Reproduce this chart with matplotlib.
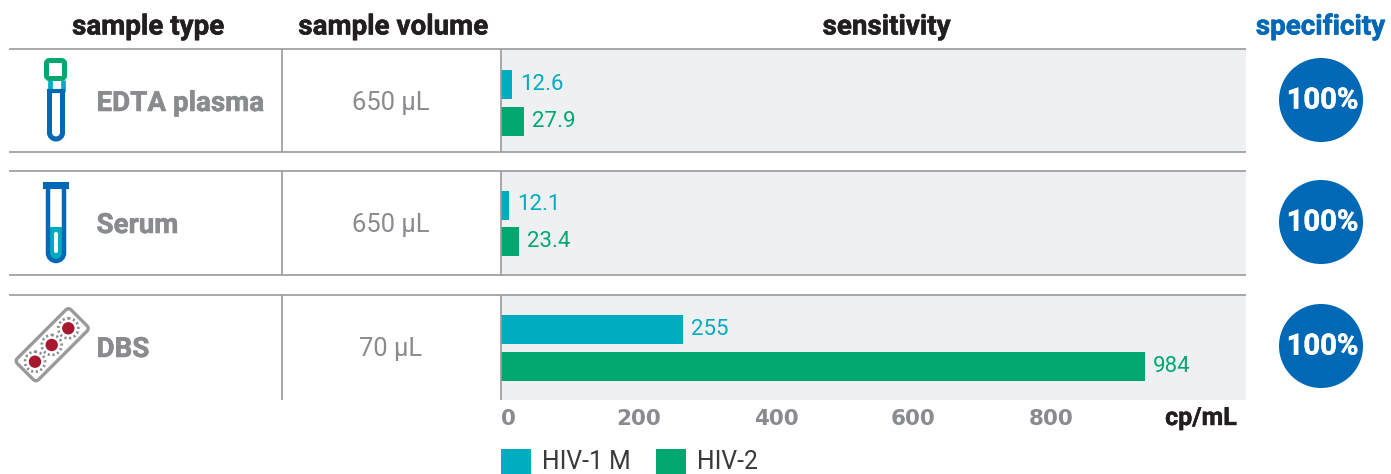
#!/usr/bin/env python3
"""Sample types vs. sensitivity and specificity for HIV-1 M and HIV-2."""

import matplotlib
matplotlib.use("Agg")
import matplotlib.pyplot as plt
import matplotlib.patheffects as pe
from matplotlib.patches import Circle, FancyBboxPatch, Rectangle
from matplotlib.path import Path
from matplotlib.patches import PathPatch
from matplotlib.transforms import Affine2D

W, H = 1391, 474

sample_types = ["EDTA plasma", "Serum", "DBS"]
sample_volumes = ["650 µL", "650 µL", "70 µL"]
series_names = ["HIV-1 M", "HIV-2"]
# printed values
hiv1_labels = ["12.6", "12.1", "255"]
hiv2_labels = ["27.9", "23.4", "984"]
# bar lengths as read against the axis (the drawn bars are not true to the printed numbers)
hiv1_lengths = [16, 11.6, 264.7]
hiv2_lengths = [33.5, 26.2, 936.7]
specificity = ["100%", "100%", "100%"]
axis_ticks = [0, 200, 400, 600, 800]

TEAL = "#00ADC0"
GREEN = "#00A870"
BLUE = "#0068B5"
GRAY = "#8A8B8E"
LINE = "#9A9A9C"
PANEL = "#EFF0F2"
DARK = "#231F20"
RED = "#A6192E"

plt.rcParams["font.family"] = ["Roboto", "DejaVu Sans"]

fig = plt.figure(figsize=(W / 100, H / 100), dpi=100)

# overlay in pixel coordinates for the table rules, icons and texts
bg = fig.add_axes([0, 0, 1, 1], zorder=5)
bg.set_xlim(0, W)
bg.set_ylim(H, 0)
bg.axis("off")

PX_PER_UNIT = 0.6875
PANEL_X0, PANEL_X1 = 501, 1246
rows = [(49, 152, 84.5), (171, 275, 205), (295, 400, 329.5)]
BAR_STEP = 36.5


def heavy(color, w=0.4):
    # fake a blacker weight than Roboto Bold
    return [pe.withStroke(linewidth=w, foreground=color)]


def draw_bars(i):
    top, bottom, first = rows[i]
    ax = fig.add_axes([PANEL_X0 / W, 1 - bottom / H, (PANEL_X1 - PANEL_X0) / W, (bottom - top) / H])
    ax.set_facecolor(PANEL)
    ax.barh([0, 1], [hiv1_lengths[i], hiv2_lengths[i]], height=29 / BAR_STEP, color=[TEAL, GREEN])
    ax.set_xlim(0, (PANEL_X1 - PANEL_X0) / PX_PER_UNIT)
    ax.set_ylim((bottom - first) / BAR_STEP, (top - first) / BAR_STEP)
    ax.annotate(hiv1_labels[i], (hiv1_lengths[i], 0), xytext=(5.6, 0), textcoords="offset points",
                va="center", color=TEAL, fontsize=16)
    ax.annotate(hiv2_labels[i], (hiv2_lengths[i], 1), xytext=(5.6, 0), textcoords="offset points",
                va="center", color=GREEN, fontsize=16)
    for s in ax.spines.values():
        s.set_visible(False)
    ax.set_yticks([])
    ax.set_xticks([])
    return ax


for i in range(3):
    ax = draw_bars(i)

# axis labels only below the last panel
ax.set_xticks(axis_ticks)
ax.set_xticklabels([str(t) for t in axis_ticks], fontsize=15.5, fontweight="bold", color=GRAY,
                   family="DejaVu Sans")
ax.get_xticklabels()[0].set_ha("left")
ax.tick_params(axis="x", length=0, pad=6.5)

# table rules
for y in [49, 152, 171, 275, 295]:
    bg.plot([9, PANEL_X1], [y, y], color=LINE, lw=1.2, solid_capstyle="butt")
for top, bottom, _ in rows:
    for x in [281.5, 501]:
        bg.plot([x, x], [top, bottom], color=LINE, lw=1.2, solid_capstyle="butt")

# headers
for x, txt, col in [(148, "sample type", DARK), (393, "sample volume", DARK),
                    (886.5, "sensitivity", DARK), (1320.5, "specificity", BLUE)]:
    bg.text(x, 27, txt, ha="center", va="center", fontsize=20, fontweight="bold", color=col,
            path_effects=heavy(col))

# row text and specificity discs
row_text_y = [102, 224, 348]
disc_y = [100, 222, 346]
for i in range(3):
    bg.text(96.5, row_text_y[i] + 1.5, sample_types[i], va="center", fontsize=20, fontweight="bold", color=GRAY,
            path_effects=heavy(GRAY))
    bg.text(391, row_text_y[i] + 1, sample_volumes[i], ha="center", va="center", fontsize=18.4, color=GRAY)
    bg.add_patch(Circle((1321, disc_y[i]), 42, color=BLUE, lw=0))
    bg.text(1322.5, disc_y[i] + 0.5, specificity[i], ha="center", va="center", fontsize=21,
            fontweight="bold", color="white", path_effects=heavy("white"))

bg.text(1237, 418, "cp/mL", ha="right", va="center", fontsize=18, fontweight="bold", color=DARK,
        path_effects=heavy(DARK, 0.3))

# legend
for x, name, col in [(501, series_names[0], TEAL), (656, series_names[1], GREEN)]:
    bg.add_patch(Rectangle((x, 449), 30, 25, color=col, lw=0))
    bg.text(x + 41, 462, name, va="center", fontsize=17.8, color="#3A3A3C")


def tube_path(x0, x1, y0, y1):
    r = (x1 - x0) / 2
    k = 0.5523 * r
    return Path([(x0, y0), (x0, y1 - r), (x0, y1 - r + k), (x0 + r - k, y1), (x0 + r, y1),
                 (x0 + r + k, y1), (x1, y1 - r + k), (x1, y1 - r), (x1, y0)],
                [Path.MOVETO, Path.LINETO, Path.CURVE4, Path.CURVE4, Path.CURVE4,
                 Path.CURVE4, Path.CURVE4, Path.CURVE4, Path.LINETO])


# EDTA tube
bg.plot([49.5, 49.5], [80, 92], color=TEAL, lw=3.4, solid_capstyle="butt")
bg.plot([62.5, 62.5], [80, 92], color=TEAL, lw=3.4, solid_capstyle="butt")
bg.add_patch(PathPatch(tube_path(49.5, 62.5, 91, 139), fc="none", ec=BLUE, lw=3.6))
bg.plot([47, 65], [91, 91], color=BLUE, lw=3, solid_capstyle="butt")
bg.add_patch(FancyBboxPatch((46.5, 60.5), 18, 18, boxstyle="round,pad=0,rounding_size=3",
                            fc="white", ec=GREEN, lw=3.6))

# Serum tube
bg.add_patch(PathPatch(tube_path(48, 64, 227, 261), fc=TEAL, ec="none"))
bg.add_patch(FancyBboxPatch((54, 232), 4, 21, boxstyle="round,pad=0,rounding_size=2", fc="white", ec="none"))
bg.add_patch(PathPatch(tube_path(48, 64, 186, 261), fc="none", ec=BLUE, lw=3.2))
bg.add_patch(Rectangle((43, 182), 26, 7, color=BLUE, lw=0))

# DBS card
card = FancyBboxPatch((-38, -15), 76, 30, boxstyle="round,pad=0,rounding_size=4", fc="white", ec=LINE, lw=2.4)
card.set_transform(Affine2D().rotate_deg(-45).translate(52.2, 344.7) + bg.transData)
bg.add_patch(card)
for cx, cy in [(35, 361.7), (51.7, 345), (68.3, 328.3)]:
    bg.add_patch(Circle((cx, cy), 6.2, color=RED, lw=0))
    bg.add_patch(Circle((cx, cy), 10, fc="none", ec=GRAY, lw=1.9, ls=(0, (0.8, 1.0))))

fig.savefig("out.png", dpi=100)
